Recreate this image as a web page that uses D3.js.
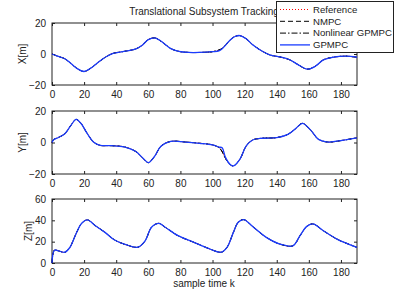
<!DOCTYPE html>
<html>
<head>
<meta charset="utf-8">
<script src="https://cdn.jsdelivr.net/npm/d3@7"></script>
<style>
  body { margin: 0; background: #fff; }
  svg text { font-family: "Liberation Sans", Arial, sans-serif; fill: #222; }
</style>
</head>
<body>
<script>
// sample instants and values
var kX = [0, 2, 4, 8, 12, 16, 20, 25, 29, 34, 38, 45, 52, 56, 60, 64, 68, 74, 79, 85, 92, 100, 104, 106, 108, 111, 114, 117, 121, 125, 131, 136, 142, 148, 153, 159, 164, 169, 175, 183, 190];
var xRef = [0, -0.8, -1.6, -3.1, -6.3, -9.6, -11.3, -8.5, -5.2, -1.6, 0.4, 1.7, 3.2, 5.5, 9.3, 10.4, 8.2, 3.5, 1.7, 1.0, 1.0, 1.5, 2.6, 3.6, 5.6, 9.1, 11.3, 11.9, 9.8, 6.0, 1.8, -0.7, -1.9, -3.7, -6.7, -9.8, -7.9, -3.8, -2.1, -1.4, -2.1];
var xGp = [0, -0.8, -1.6, -3.1, -6.3, -9.6, -11.3, -8.5, -5.2, -1.6, 0.4, 1.7, 3.2, 5.5, 9.3, 10.4, 8.2, 3.5, 1.7, 1.0, 1.0, 1.5, 2.0, 3.4, 5.6, 9.1, 11.3, 11.9, 9.8, 6.0, 1.8, -0.7, -1.9, -3.7, -6.7, -9.8, -7.9, -3.8, -2.1, -1.4, -2.1];

var kY = [0, 1, 4, 8, 12, 15, 18, 22, 26, 30, 37, 45, 52, 57, 60, 64, 68, 74, 83, 92, 100, 104, 106, 108, 111, 113, 117, 121, 125, 131, 140, 147, 152, 156, 161, 166, 172, 181, 190];
var yRef = [0, 1.8, 3.2, 5.6, 11.2, 14.7, 12.2, 5.6, 0.2, -1.8, -2.0, -2.8, -5.6, -10.3, -12.8, -8.6, -2.2, 0.7, 0.3, -0.5, -1.5, -3.2, -5.8, -10.0, -14.0, -14.9, -10.7, -2.2, 1.6, 2.7, 3.1, 5.2, 9.0, 12.2, 8.0, 2.0, 0.3, 1.4, 3.0];
var yGp = [0, 1.8, 3.2, 5.6, 11.2, 14.7, 12.2, 5.6, 0.2, -1.8, -2.0, -2.8, -5.6, -10.3, -12.8, -8.6, -2.2, 0.7, 0.3, -0.5, -1.5, -2.9, -3.4, -9.3, -14.0, -14.9, -10.7, -2.2, 1.6, 2.7, 3.1, 5.2, 9.0, 12.2, 8.0, 2.0, 0.3, 1.4, 3.0];

var kZ = [0, 1.5, 4, 8, 11, 15, 18.5, 22, 27, 33, 39, 46, 53.5, 58, 62, 66.5, 70.5, 78.5, 87, 95, 98.5, 105.5, 109, 113, 116, 119.5, 125, 133.5, 142, 150, 154.5, 158.5, 162.5, 169, 177.5, 190];
var zRef = [0, 12, 11.4, 10.1, 14.3, 27.5, 37.2, 40.4, 35, 28.7, 21.6, 17.2, 14.8, 20.8, 33.5, 37.2, 33.5, 25.6, 20.2, 15.2, 13.0, 10.1, 14.6, 28.7, 38.2, 40.7, 34.2, 24.0, 17.7, 16.1, 25.6, 34.1, 36.6, 30.3, 22.4, 14.6];
var zGp = zRef;

var xTicks = [0, 20, 40, 60, 80, 100, 120, 140, 160, 180];
var yTicksXY = [-20, 0, 20];
var yTicksZ = [0, 20, 40, 60];

var legendNames = ['Reference', 'NMPC', 'Nonlinear GPMPC', 'GPMPC'];

var width = 395,
    height = 296;

var svg = d3.select('body').append('svg')
    .attr('width', width)
    .attr('height', height);

var x = d3.scaleLinear().domain([0, 190]).range([52, 357]);

var styles = [
    { color: '#ff0000', dash: '1,2', w: 1 },
    { color: '#000000', dash: '5,3', w: 1 },
    { color: '#000000', dash: '6,2,1.5,2', w: 1 },
    { color: '#1a3cff', dash: null, w: 1.3 }
];

var panels = [
    { label: 'X[m]', k: kX, ref: xRef, gp: xGp, domain: [-20, 20], ticks: yTicksXY, top: 23, bottom: 85, lx: 22 },
    { label: 'Y[m]', k: kY, ref: yRef, gp: yGp, domain: [-20, 20], ticks: yTicksXY, top: 111, bottom: 174, lx: 22 },
    { label: 'Z[m]', k: kZ, ref: zRef, gp: zGp, domain: [0, 60], ticks: yTicksZ, top: 199, bottom: 263, lx: 28 }
];

panels.forEach(function (p) {
    var y = d3.scaleLinear().domain(p.domain).range([p.bottom, p.top]);
    var g = svg.append('g');

    // axes with inward ticks, MATLAB-like box
    g.append('g').attr('transform', 'translate(0,' + p.bottom + ')')
        .call(d3.axisBottom(x).tickValues(xTicks).tickSizeInner(-3).tickSizeOuter(0).tickPadding(6));
    g.append('g').attr('transform', 'translate(0,' + p.top + ')')
        .call(d3.axisTop(x).tickValues(xTicks).tickSizeInner(-3).tickSizeOuter(0).tickFormat(''));
    g.append('g').attr('transform', 'translate(' + x.range()[0] + ',0)')
        .call(d3.axisLeft(y).tickValues(p.ticks).tickSizeInner(-3).tickSizeOuter(0).tickPadding(6)
            .tickFormat(function (d) { return d < 0 ? '\u2212' + Math.abs(d) : d; }));
    g.append('g').attr('transform', 'translate(' + x.range()[1] + ',0)')
        .call(d3.axisRight(y).tickValues(p.ticks).tickSizeInner(-3).tickSizeOuter(0).tickFormat(''));

    g.selectAll('.domain').remove();
    g.selectAll('.tick line').attr('stroke', '#222');
    g.selectAll('.tick text').style('font-size', '10px')
        .style('font-family', '"Liberation Sans", Arial, sans-serif').attr('fill', '#222');

    g.append('rect')
        .attr('x', x.range()[0]).attr('y', p.top)
        .attr('width', x.range()[1] - x.range()[0]).attr('height', p.bottom - p.top)
        .attr('fill', 'none').attr('stroke', '#222').attr('stroke-width', 1);

    var line = function (vals) {
        return d3.line()
            .x(function (d, i) { return x(p.k[i]); })
            .y(function (d) { return y(d); })
            .curve(d3.curveCatmullRom.alpha(0.5))(vals);
    };

    var series = [p.ref, p.ref, p.ref, p.gp];
    series.forEach(function (vals, i) {
        g.append('path')
            .attr('d', line(vals))
            .attr('fill', 'none')
            .attr('stroke', styles[i].color)
            .attr('stroke-width', styles[i].w)
            .attr('stroke-dasharray', styles[i].dash);
    });

    g.append('text')
        .attr('transform', 'translate(' + p.lx + ',' + (p.top + p.bottom) / 2 + ') rotate(-90)')
        .attr('text-anchor', 'middle')
        .attr('dy', '0.35em')
        .style('font-size', '10px')
        .text(p.label);
});

svg.append('text')
    .attr('x', 204).attr('y', 15)
    .attr('text-anchor', 'middle')
    .style('font-size', '10px')
    .text('Translational Subsystem Tracking');

svg.append('text')
    .attr('x', 204).attr('y', 287)
    .attr('text-anchor', 'middle')
    .style('font-size', '10px')
    .text('sample time k');

// legend
var leg = svg.append('g');
leg.append('rect')
    .attr('x', 276.5).attr('y', 1.5).attr('width', 117).attr('height', 51)
    .attr('fill', '#fff').attr('stroke', '#222');

legendNames.forEach(function (name, i) {
    var ly = 9.5 + i * 11.8;
    leg.append('line')
        .attr('x1', 280).attr('x2', 310).attr('y1', ly).attr('y2', ly)
        .attr('stroke', styles[i].color)
        .attr('stroke-width', styles[i].w)
        .attr('stroke-dasharray', styles[i].dash);
    leg.append('text')
        .attr('x', 313).attr('y', ly).attr('dy', '0.35em')
        .style('font-size', '9.6px')
        .text(name);
});
</script>
</body>
</html>
